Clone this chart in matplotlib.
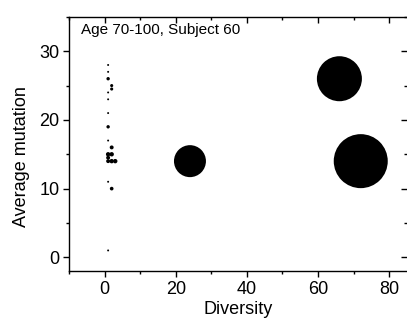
import matplotlib
matplotlib.use("Agg")
import matplotlib.pyplot as plt
from matplotlib.ticker import MultipleLocator

plt.rcParams['font.family'] = ['Liberation Sans', 'DejaVu Sans']

# small clones near diversity 1-3, plus three large clusters
diversity = [1, 1, 1, 2, 2, 1, 1, 1, 1, 1, 2, 1, 2, 1, 2, 3, 1, 2, 1, 1,
             24, 66, 72]
mutation = [28, 27, 26, 25, 24.5, 24, 23, 21, 19, 17, 16, 15, 15, 14.5, 14, 14, 14,
            10, 11, 1, 14, 26, 14]
size = [2, 2, 6, 5, 5, 2, 2, 2, 6, 2, 8, 10, 10, 8, 10, 10, 8, 7, 2, 2,
        530, 1050, 1512]

fig = plt.figure(figsize=(4.07, 3.25), dpi=100)
ax = fig.add_axes([0.1695, 0.166, 0.8305, 0.782])

ax.scatter(diversity, mutation, s=size, c='black', linewidths=0)

ax.set_xlim(-10, 85)
ax.set_ylim(-2, 35)
ax.xaxis.set_major_locator(MultipleLocator(20))
ax.xaxis.set_minor_locator(MultipleLocator(10))
ax.yaxis.set_major_locator(MultipleLocator(10))
ax.yaxis.set_minor_locator(MultipleLocator(5))

ax.tick_params(which='both', direction='out', labelsize=13, width=1, pad=3)
ax.tick_params(which='major', length=4)
ax.tick_params(which='minor', length=2.5)
ax.tick_params(which='both', top=True, right=True)
# top/right ticks point inward
for t in ax.xaxis.get_major_ticks() + ax.xaxis.get_minor_ticks():
    t.tick2line.set_marker(3)
for t in ax.yaxis.get_major_ticks() + ax.yaxis.get_minor_ticks():
    t.tick2line.set_marker(0)
ax.spines['right'].set_visible(False)
for s in ['left', 'bottom', 'top']:
    ax.spines[s].set_linewidth(1)

ax.set_xlabel('Diversity', fontsize=13, labelpad=2)
ax.set_ylabel('Average mutation', fontsize=13)
ax.yaxis.set_label_coords(-0.115, 0.45)
ax.text(0.035, 0.975, 'Age 70-100, Subject 60', transform=ax.transAxes,
        fontsize=11, va='top', ha='left')

fig.savefig('out.png', dpi=100)
